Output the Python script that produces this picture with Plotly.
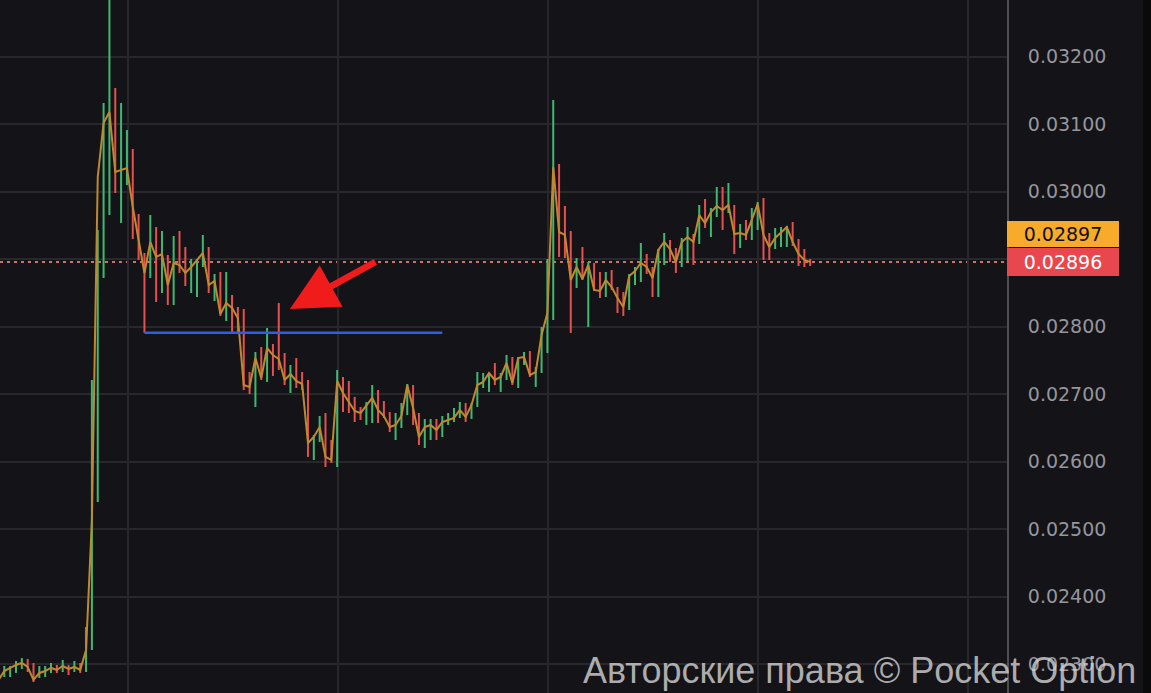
import plotly.graph_objects as go

# ---------------- data ----------------
close = [0.022766, 0.022899, 0.022944, 0.022988, 0.023018, 0.022959, 0.022766, 0.022870, 0.022899, 0.022944,
         0.022914, 0.022973, 0.022929, 0.022959, 0.022914, 0.023210, 0.025136, 0.030218, 0.031018, 0.031181,
         0.030292, 0.030321, 0.030351, 0.029773, 0.029284, 0.028796, 0.029255, 0.029033, 0.029077, 0.028618,
         0.028944, 0.028914, 0.028796, 0.028884, 0.028988, 0.029092, 0.028618, 0.028677, 0.028188, 0.028351,
         0.028277, 0.028129, 0.027136, 0.027107, 0.027536, 0.027240, 0.027684, 0.027581, 0.027521, 0.027210,
         0.027299, 0.027196, 0.027151, 0.026277, 0.026366, 0.026514, 0.026070, 0.026025, 0.027196, 0.027018,
         0.026884, 0.026751, 0.026721, 0.026840, 0.026944, 0.026766, 0.026677, 0.026514, 0.026544, 0.026677,
         0.027136, 0.026796, 0.026366, 0.026514, 0.026544, 0.026470, 0.026588, 0.026618, 0.026647, 0.026766,
         0.026662, 0.026840, 0.027136, 0.027181, 0.027314, 0.027210, 0.027255, 0.027462, 0.027166, 0.027536,
         0.027551, 0.027284, 0.027329, 0.027877, 0.028203, 0.030366, 0.029403, 0.029359, 0.028692, 0.028884,
         0.028707, 0.028914, 0.028544, 0.028529, 0.028692, 0.028588, 0.028425, 0.028292, 0.028751, 0.028825,
         0.028944, 0.028884, 0.028721, 0.029136, 0.029255, 0.029151, 0.028959, 0.029255, 0.029329, 0.029255,
         0.029655, 0.029536, 0.029699, 0.029788, 0.029729, 0.029803, 0.029373, 0.029388, 0.029359, 0.029581,
         0.029818, 0.029359, 0.029181, 0.029314, 0.029403, 0.029477, 0.029255, 0.029077, 0.028988, 0.028960]

high = [0.022884, 0.022973, 0.022973, 0.023047, 0.023092, 0.023077, 0.023018, 0.022973, 0.022973, 0.023018,
        0.022988, 0.023062, 0.022988, 0.023047, 0.023018, 0.023551, 0.027210, 0.029433, 0.031314, 0.033433,
        0.031536, 0.031314, 0.030914, 0.030633, 0.029670, 0.029092, 0.029655, 0.029477, 0.029418, 0.029062,
        0.029344, 0.029418, 0.029181, 0.029003, 0.029003, 0.029359, 0.029181, 0.028781, 0.028810, 0.028810,
        0.028470, 0.028292, 0.028262, 0.027329, 0.027625, 0.027699, 0.027981, 0.027744, 0.028351, 0.027610,
        0.027433, 0.027536, 0.027329, 0.027210, 0.026396, 0.026677, 0.026721, 0.026321, 0.027359, 0.027255,
        0.027196, 0.026959, 0.026810, 0.026884, 0.027136, 0.027062, 0.026899, 0.026736, 0.026721, 0.026870,
        0.027151, 0.027136, 0.026721, 0.026633, 0.026633, 0.026633, 0.026677, 0.026721, 0.026796, 0.026884,
        0.026870, 0.026870, 0.027329, 0.027314, 0.027314, 0.027462, 0.027314, 0.027581, 0.027551, 0.027551,
        0.027625, 0.027640, 0.027403, 0.027996, 0.029003, 0.031359, 0.030410, 0.029788, 0.029418, 0.029018,
        0.029181, 0.028959, 0.028944, 0.028810, 0.028810, 0.028840, 0.028588, 0.028514, 0.028781, 0.028884,
        0.029240, 0.029077, 0.028884, 0.029151, 0.029388, 0.029284, 0.029166, 0.029314, 0.029477, 0.029373,
        0.029803, 0.029892, 0.029759, 0.030070, 0.030070, 0.030129, 0.029803, 0.029521, 0.029581, 0.029759,
        0.029847, 0.029907, 0.029388, 0.029462, 0.029477, 0.029492, 0.029551, 0.029299, 0.029151, 0.029003]

low = [0.022707, 0.022810, 0.022810, 0.022870, 0.022929, 0.022884, 0.022736, 0.022796, 0.022810, 0.022870,
       0.022870, 0.022884, 0.022840, 0.022884, 0.022870, 0.022884, 0.023210, 0.025403, 0.028721, 0.029655,
       0.029981, 0.029536, 0.030099, 0.029299, 0.028988, 0.027910, 0.028721, 0.028366, 0.028499, 0.028321,
       0.028321, 0.028796, 0.028603, 0.028499, 0.028440, 0.028884, 0.028499, 0.028381, 0.028159, 0.028084,
       0.027907, 0.027907, 0.027062, 0.027003, 0.026810, 0.027210, 0.027181, 0.027270, 0.027359, 0.027136,
       0.027018, 0.027092, 0.027062, 0.026070, 0.026025, 0.026292, 0.025921, 0.025981, 0.025921, 0.026736,
       0.026721, 0.026588, 0.026618, 0.026544, 0.026573, 0.026573, 0.026647, 0.026440, 0.026321, 0.026499,
       0.026692, 0.026544, 0.026247, 0.026203, 0.026321, 0.026321, 0.026366, 0.026544, 0.026588, 0.026647,
       0.026588, 0.026633, 0.026810, 0.027092, 0.027033, 0.027136, 0.027033, 0.027210, 0.027136, 0.027092,
       0.027433, 0.027255, 0.027107, 0.027314, 0.027610, 0.028099, 0.029033, 0.029018, 0.027907, 0.028573,
       0.028692, 0.027996, 0.028529, 0.028425, 0.028440, 0.028544, 0.028203, 0.028159, 0.028247, 0.028618,
       0.028662, 0.028781, 0.028440, 0.028440, 0.028914, 0.028959, 0.028796, 0.028884, 0.028959, 0.028914,
       0.029225, 0.029462, 0.029329, 0.029625, 0.029433, 0.029684, 0.029077, 0.029166, 0.029284, 0.029284,
       0.029433, 0.028988, 0.028988, 0.029151, 0.029181, 0.029181, 0.029196, 0.028899, 0.028884, 0.028899]

y_ticks = [0.023, 0.024, 0.025, 0.026, 0.027, 0.028, 0.029, 0.030, 0.031, 0.032]
y_tick_labels = ["0.02300", "0.02400", "0.02500", "0.02600", "0.02700",
                 "0.02800", "0.02900", "0.03000", "0.03100", "0.03200"]

current_price = 0.02896
ask_price_label = "0.02897"
bid_price_label = "0.02896"

level_price = 0.02791
level_start_bar = 24
level_end_bar = 75

arrow_bar = 48.9
arrow_price = 0.028262

watermark = "Авторские права © Pocket Option"

# ---------------- figure ----------------
bars = list(range(-1, len(close) - 1))

gx, gy, rx, ry = [], [], [], []
for k, b in enumerate(bars):
    prev = close[k - 1] if k > 0 else close[k]
    if close[k] >= prev:
        gx += [b, b, None]
        gy += [low[k], high[k], None]
    else:
        rx += [b, b, None]
        ry += [low[k], high[k], None]

BG = "#131318"
GRID = "#27272c"
GREEN = "#3fb970"
RED = "#e6504f"

fig = go.Figure()
fig.add_trace(go.Scatter(x=gx, y=gy, mode="lines", line=dict(color=GREEN, width=2),
                         hoverinfo="skip", showlegend=False))
fig.add_trace(go.Scatter(x=rx, y=ry, mode="lines", line=dict(color=RED, width=2),
                         hoverinfo="skip", showlegend=False))
fig.add_trace(go.Scatter(x=bars, y=close, mode="lines", line=dict(color="#c0892e", width=2),
                         hoverinfo="skip", showlegend=False))
fig.add_trace(go.Scatter(x=[level_start_bar, level_end_bar], y=[level_price, level_price], mode="lines",
                         line=dict(color="#2f5fe0", width=2.5), hoverinfo="skip", showlegend=False))

fig.update_layout(
    width=1151, height=693,
    margin=dict(l=0, r=144, t=0, b=0),
    paper_bgcolor=BG, plot_bgcolor=BG,
    showlegend=False,
    xaxis=dict(range=[-0.736, 171.7], showticklabels=False, ticks="", zeroline=False,
               showgrid=True, gridcolor=GRID, gridwidth=2,
               tickmode="linear", tick0=21.23, dtick=35.96, showline=False, fixedrange=True),
    yaxis=dict(range=[0.022573, 0.032840], side="right", tickmode="array",
               tickvals=y_ticks, ticktext=y_tick_labels,
               showgrid=True, gridcolor=GRID, gridwidth=2, zeroline=False,
               showline=True, linecolor="#4d4d53", linewidth=2, ticks="",
               ticklabelstandoff=15,
               tickfont=dict(family="DejaVu Sans", size=19, color="#96969c")),
    shapes=[
        dict(type="line", xref="paper", x0=0, x1=1, yref="y", y0=current_price, y1=current_price,
             line=dict(color="#d66c66", width=2, dash="3px,4px"), layer="below"),
        dict(type="rect", xref="paper", x0=1143 / 1007, x1=1.2, yref="paper", y0=0, y1=1,
             fillcolor="#0a0a0c", line=dict(width=0)),
    ],
    annotations=[
        dict(x=arrow_bar, y=arrow_price, xref="x", yref="y", ax=87, ay=-48, text="",
             showarrow=True, arrowhead=2, arrowsize=1.45, arrowwidth=6.5, arrowcolor="#f01c1c"),
        dict(x=1, xref="paper", xanchor="left", y=current_price, yref="y", yshift=28,
             text=ask_price_label, showarrow=False, bgcolor="#f8ab2a", width=110, height=24,
             borderpad=1, borderwidth=0, align="center",
             font=dict(family="DejaVu Sans", size=19, color="#111111")),
        dict(x=1, xref="paper", xanchor="left", y=current_price, yref="y",
             text=bid_price_label, showarrow=False, bgcolor="#e8474f", width=110, height=26,
             borderpad=1, borderwidth=0, align="center",
             font=dict(family="DejaVu Sans", size=19, color="#ffffff")),
        dict(x=1138 / 1007, xref="paper", xanchor="right", y=(693 - 670) / 693, yref="paper",
             yanchor="middle", text=watermark, showarrow=False,
             font=dict(family="Liberation Sans", size=36, color="rgba(215,215,215,0.78)")),
    ],
)

fig.write_html("out.html", config={"displayModeBar": False},
               post_script="document.body.style.margin='0';document.body.style.overflow='hidden';")
